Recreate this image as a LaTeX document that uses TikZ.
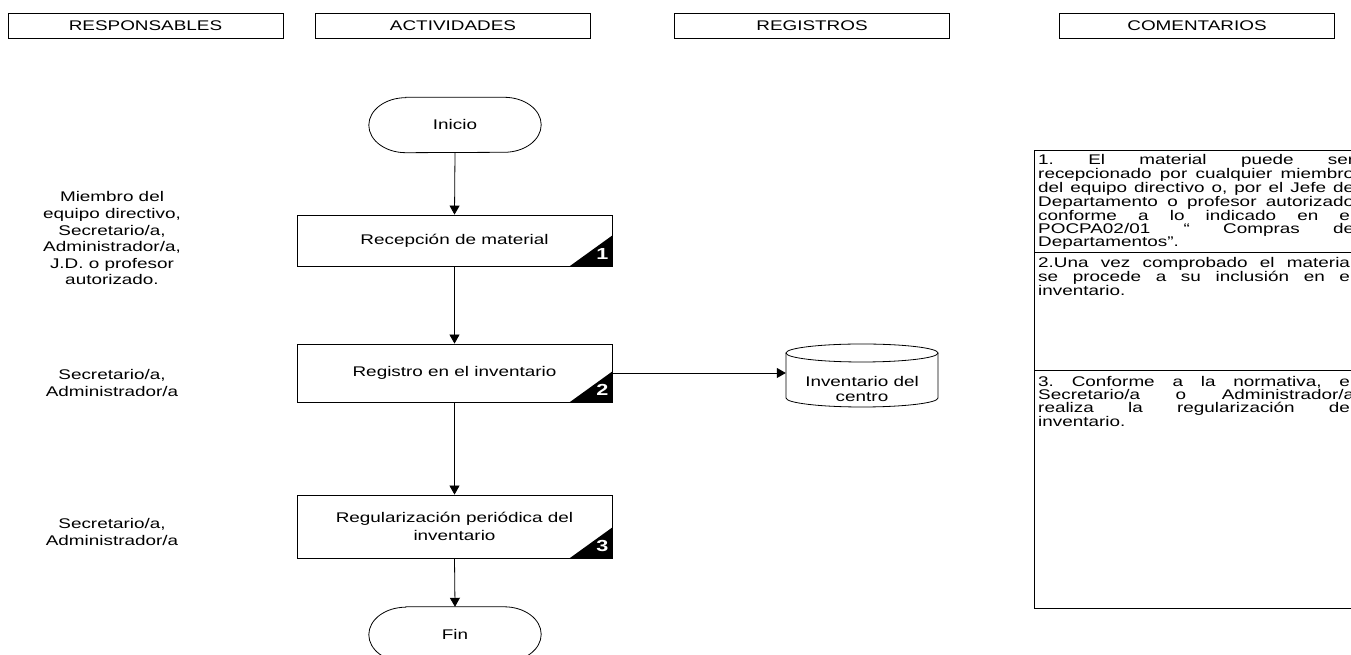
\documentclass[tikz,border=0pt]{standalone}
\usepackage{fontspec}
\setmainfont[FakeStretch=1.35]{Liberation Sans}
\usetikzlibrary{arrows.meta,calc}
\frenchspacing
\begin{document}
\begin{tikzpicture}[x=1pt,y=1pt,
  font=\fontsize{14}{16.6}\selectfont,
  hdr/.style={draw,line width=0.8pt,minimum width=275pt,minimum height=25pt,inner sep=0pt},
  proc/.style={draw,line width=0.8pt,minimum width=315pt,inner sep=0pt,align=center,font=\fontsize{14}{18}\selectfont},
  term/.style={minimum width=172pt,minimum height=55pt,inner sep=0pt},
  lbl/.style={align=center,inner sep=0pt},
  cmt/.style={anchor=north west,align=left,inner sep=0pt,font=\fontsize{14}{13}\selectfont},
  arr/.style={-{Triangle[width=10pt,length=9pt]},line width=0.8pt},
  num/.style={text=white,font=\fontsize{16}{16}\selectfont\bfseries,inner sep=0pt},
  thin/.style={line width=0.8pt}]
\useasboundingbox (0,0) rectangle (1351,655);
\fill[white] (0,0) rectangle (1351,655);
% headers
\node[hdr] (h1) at (145.5,629.5) {RESPONSABLES};
\node[hdr] (h2) at (453,629.5) {ACTIVIDADES};
\node[hdr] (h3) at (812,629.5) {REGISTROS};
\node[hdr] (h4) at (1197,629.5) {COMENTARIOS};
% terminals
\node[term] (ini) at (455,530) {Inicio};
\node[term] (fin) at (455,20.5) {Fin};
\foreach \n in {ini,fin}{
  \draw[thin] ([xshift=37pt]\n.north west) -- ([xshift=-37pt]\n.north east)
    arc[start angle=90,end angle=-90,x radius=37pt,y radius=27.5pt]
    -- ([xshift=37pt]\n.south west)
    arc[start angle=270,end angle=90,x radius=37pt,y radius=27.5pt] -- cycle;
}
% process boxes
\node[proc,minimum height=51pt] (b1) at (454.5,414.5) {Recepción de material};
\node[proc,minimum height=58pt] (b2) at (454.5,282) {Registro en el inventario};
\node[proc,minimum height=63pt] (b3) at (454.5,128.5) {Regularización periódica del\\inventario};
\foreach \b/\k in {b1/1,b2/2,b3/3}{
  \fill ([xshift=-43pt]\b.south east) -- ([yshift=31pt]\b.south east) -- (\b.south east) -- cycle;
  \node[num] at ([xshift=-10pt,yshift=12pt]\b.south east) {\k};
}
% connectors
\draw[arr] (ini.south) -- (b1.north);
\draw[arr] (b1.south) -- (b2.north);
\draw[arr] (b2.south) -- (b3.north);
\draw[arr] (b3.south) -- (fin.north);
% cylinder
\node[minimum width=152pt,minimum height=30pt,inner sep=0pt,align=center,font=\fontsize{14}{15.5}\selectfont] (cyl) at (862,266) {Inventario del\\centro};
\draw[thin] (786,302) -- (786,257) arc[start angle=180,end angle=360,x radius=76pt,y radius=9pt] -- (938,302);
\draw[thin] (862,302) ellipse[x radius=76pt,y radius=9pt];
\draw[arr] (b2.east) -- (b2.east -| cyl.west);
% responsables
\node[lbl] (r1) at (112,416.5) {Miembro del\\equipo directivo,\\Secretario/a,\\Administrador/a,\\J.D. o profesor\\autorizado.};
\node[lbl] (r2) at (112,272) {Secretario/a,\\Administrador/a};
\node[lbl] (r3) at (112,123) {Secretario/a,\\Administrador/a};
% comments
\coordinate (c0) at (1034,505);
\coordinate (c1) at (1034,403);
\coordinate (c2) at (1034,285);
\coordinate (c3) at (1034,47);
\draw[thin] (1365,505) -- (c0) -- (c3) -- (1365,47);
\draw[thin] (c1) -- (1365,403);
\draw[thin] (c2) -- (1365,285);
\node[cmt] (t1) at (1038,501) {\makebox[316pt][s]{1. El material puede ser}\\
\makebox[316pt][s]{recepcionado por cualquier miembro}\\
\makebox[316pt][s]{del equipo directivo o, por el Jefe de}\\
\makebox[316pt][s]{Departamento o profesor autorizado}\\
\makebox[316pt][s]{conforme a lo indicado en el}\\
\makebox[316pt][s]{POCPA02/01 “ Compras de}\\
Departamentos”.};
\node[cmt] (t2) at (1038,398) {\makebox[316pt][s]{2.Una vez comprobado el material}\\
\makebox[316pt][s]{se procede a su inclusión en el}\\
inventario.};
\node[cmt] (t3) at (1038,279) {\makebox[316pt][s]{3. Conforme a la normativa, el}\\
\makebox[316pt][s]{Secretario/a o Administrador/a}\\
\makebox[316pt][s]{realiza la regularización del}\\
inventario.};
\end{tikzpicture}
\end{document}
